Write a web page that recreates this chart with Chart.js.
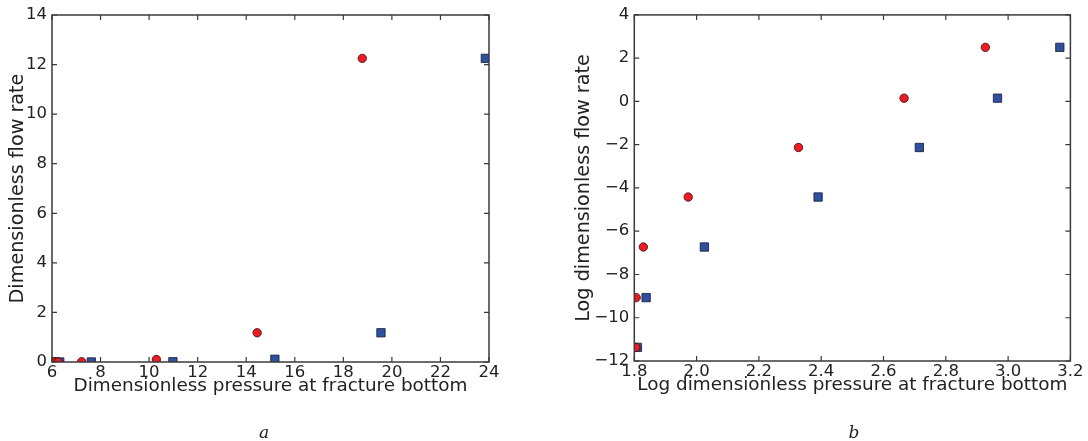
<!DOCTYPE html>
<html><head><meta charset="utf-8">
<script src="https://cdn.jsdelivr.net/npm/chart.js@4"></script>
<style>
html,body{margin:0;padding:0;background:#fff;}
#wrap{position:relative;width:1088px;height:441px;overflow:hidden;}
.box{position:absolute;top:0;width:544px;height:441px;}
.lab{position:absolute;font-family:"DejaVu Serif","Liberation Serif",serif;font-style:italic;font-size:17px;color:#222;transform:translate(-50%,-50%);}
</style></head>
<body><div id="wrap">
<div class="box" style="left:0"><canvas id="c1"></canvas></div>
<div class="box" style="left:544px"><canvas id="c2"></canvas></div>
<div class="lab" style="left:264px;top:432px">a</div>
<div class="lab" style="left:854px;top:432px">b</div>
</div>
<script>
// ---- data (panel a) ----
const aRedX  = [6.08, 6.1, 6.25, 7.22, 10.3, 14.45, 18.78];
const aRedY  = [0, 0, 0, 0.01, 0.1, 1.18, 12.25];
const aBlueX = [6.1, 6.32, 7.62, 10.98, 15.18, 19.55, 23.85];
const aBlueY = [0, 0, 0, 0.01, 0.11, 1.18, 12.25];
// ---- data (panel b) ----
const bRedX  = [1.805, 1.806, 1.829, 1.973, 2.327, 2.666, 2.927];
const bRedY  = [-11.37, -9.07, -6.73, -4.42, -2.13, 0.15, 2.5];
const bBlueX = [1.81, 1.838, 2.025, 2.39, 2.715, 2.966, 3.166];
const bBlueY = [-11.37, -9.07, -6.73, -4.42, -2.13, 0.15, 2.5];
// ---- axis ranges / ticks ----
const aXTicks = {min: 6, max: 24, step: 2};
const aYTicks = {min: 0, max: 14, step: 2};
const bXTicks = {min: 1.8, max: 3.2, step: 0.2};
const bYTicks = {min: -12, max: 4, step: 2};
const titles = {
  aX: "Dimensionless pressure at fracture bottom",
  aY: "Dimensionless flow rate",
  bX: "Log dimensionless pressure at fracture bottom",
  bY: "Log dimensionless flow rate"
};

const pts = (xs, ys) => xs.map((x, i) => ({x, y: ys[i]}));
const FONT = "'DejaVu Sans', sans-serif";
const TXT = '#222';
const FRAME = '#3a3a3a';

const framePlugin = {
  id: 'frame',
  afterDraw(chart) {
    const {ctx, chartArea: a, scales: {x, y}} = chart;
    ctx.save();
    ctx.strokeStyle = FRAME;
    ctx.lineWidth = 1.2;
    const L = 5;
    ctx.beginPath();
    x.ticks.forEach(t => {
      const px = x.getPixelForValue(t.value);
      ctx.moveTo(px, a.bottom); ctx.lineTo(px, a.bottom - L);
      ctx.moveTo(px, a.top); ctx.lineTo(px, a.top + L);
    });
    y.ticks.forEach(t => {
      const py = y.getPixelForValue(t.value);
      ctx.moveTo(a.left, py); ctx.lineTo(a.left + L, py);
      ctx.moveTo(a.right, py); ctx.lineTo(a.right - L, py);
    });
    ctx.stroke();
    ctx.lineWidth = 1.5;
    ctx.strokeRect(a.left, a.top, a.right - a.left, a.bottom - a.top);
    ctx.restore();
  }
};

function makeChart(id, red, blue, xt, yt, xTitle, yTitle, lay, xfmt) {
  const minus = v => String(v).replace('-', '\u2212');
  return new Chart(document.getElementById(id), {
    type: 'scatter',
    data: {datasets: [
      {data: red, pointStyle: 'circle', pointRadius: 4.2, backgroundColor: '#ec1c24', borderColor: '#3a0a0a', borderWidth: 0.8, pointHoverRadius: 4.2},
      {data: blue, pointStyle: 'rect', pointRadius: 5.9, backgroundColor: '#2f4f9f', borderColor: '#111a33', borderWidth: 0.8, pointHoverRadius: 5.9}
    ]},
    options: {
      responsive: true, maintainAspectRatio: false, animation: false,
      events: [],
      layout: {padding: {left: 0, right: lay.right, top: lay.top, bottom: 0}},
      plugins: {legend: {display: false}, tooltip: {enabled: false}},
      scales: {
        x: {
          type: 'linear', min: xt.min, max: xt.max,
          grid: {display: false, drawTicks: false}, border: {display: false},
          ticks: {stepSize: xt.step, autoSkip: false, maxRotation: 0, padding: 1, color: TXT,
                  font: {family: FONT, size: 16.5}, callback: xfmt},
          title: {display: true, text: xTitle, color: TXT, font: {family: FONT, size: 18.4},
                  padding: {top: 0, bottom: lay.xTitlePad}},
          afterFit: s => { s.height = lay.xh; }
        },
        y: {
          type: 'linear', min: yt.min, max: yt.max,
          grid: {display: false, drawTicks: false}, border: {display: false},
          ticks: {stepSize: yt.step, autoSkip: false, padding: 5, color: TXT,
                  font: {family: FONT, size: 16.5}, callback: v => minus(v)},
          title: {display: true, text: yTitle, color: TXT, font: {family: FONT, size: 19.2},
                  padding: {top: lay.yTitlePad, bottom: 0}},
          afterFit: s => { s.width = lay.yw; }
        }
      }
    },
    plugins: [framePlugin]
  });
}

makeChart('c1', pts(aRedX, aRedY), pts(aBlueX, aBlueY), aXTicks, aYTicks, titles.aX, titles.aY,
  {right: 55, top: 15, xh: 79, yw: 52, xTitlePad: 44, yTitlePad: 6.5},
  v => String(v));
makeChart('c2', pts(bRedX, bRedY), pts(bBlueX, bBlueY), bXTicks, bYTicks, titles.bX, titles.bY,
  {right: 17.6, top: 14.5, xh: 80, yw: 90.3, xTitlePad: 45, yTitlePad: 28},
  v => Number(v).toFixed(1));
</script>
</body></html>
